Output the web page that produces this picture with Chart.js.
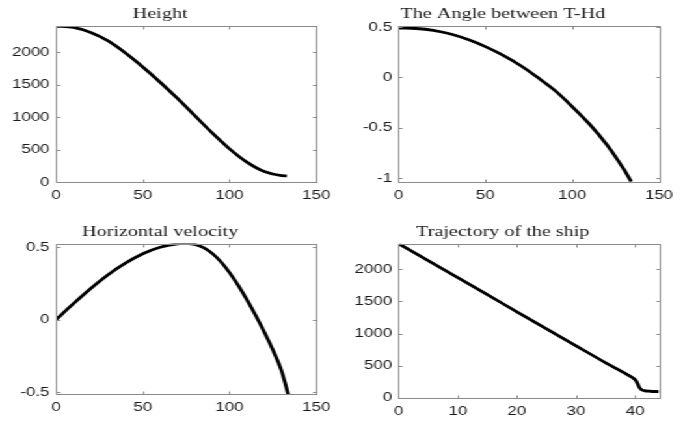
<!DOCTYPE html>
<html>
<head>
<meta charset="utf-8">
<script src="https://cdn.jsdelivr.net/npm/chart.js@4"></script>
<style>
html, body { margin: 0; padding: 0; background: #fff; overflow: hidden; }
/* the original figure is stretched sideways, so draw narrow and stretch */
#wrap { position: relative; width: 525px; height: 424px; transform: scaleX(1.301); transform-origin: 0 0; }
#wrap canvas { position: absolute; left: 0; top: 0; }
</style>
</head>
<body>
<div id="wrap">
  <canvas id="c1" width="525" height="424"></canvas>
  <canvas id="c2" width="525" height="424"></canvas>
  <canvas id="c3" width="525" height="424"></canvas>
  <canvas id="c4" width="525" height="424"></canvas>
</div>
<script>
// Height
const heightTime = [0, 10, 20, 30, 40, 50, 60, 70, 80, 90, 100, 110, 120, 130, 133];
const heightValues = [2400, 2378, 2300, 2170, 1985, 1770, 1535, 1285, 1020, 755, 510, 305, 160, 98, 95];

// The Angle between T-Hd
const angleTime = [0, 10, 20, 30, 40, 50, 60, 70, 80, 90, 100, 110, 120, 125, 130, 134];
const angleValues = [0.49, 0.485, 0.467, 0.43, 0.375, 0.305, 0.22, 0.12, 0.0, -0.13, -0.29, -0.465, -0.67, -0.79, -0.92, -1.035];

// Horizontal velocity
const velTime = [0, 10, 20, 30, 40, 50, 60, 70, 75, 80, 85, 90, 95, 100, 105, 110, 115, 120, 125, 130, 134];
const velValues = [0, 0.11, 0.215, 0.31, 0.39, 0.455, 0.5, 0.523, 0.527, 0.52, 0.497, 0.458, 0.4, 0.325, 0.237, 0.138, 0.03, -0.085, -0.21, -0.355, -0.525];

// Trajectory of the ship
const trajX = [0, 5, 10, 15, 20, 25, 30, 35, 37, 38.5, 39.5, 40.1, 40.4, 40.7, 41, 41.5, 42.5, 44];
const trajY = [2400, 2135, 1870, 1605, 1340, 1075, 810, 545, 445, 370, 315, 270, 220, 160, 130, 112, 102, 97];

const timeTicks = [0, 50, 100, 150];
const trajTicks = [0, 10, 20, 30, 40];
const heightTicks = [0, 500, 1000, 1500, 2000];
const angleTicks = [-1, -0.5, 0, 0.5];
const velTicks = [-0.5, 0, 0.5];

const W = 525, H = 424, yW = 40, xH = 30, titleSize = 15.5;

// box around the plot with inward ticks on every side
const boxPlugin = {
  id: 'box',
  afterDraw(chart) {
    const a = chart.chartArea, c = chart.ctx;
    const L = Math.round(a.left) + 0.5, R = Math.round(a.right) + 0.5;
    const T = Math.round(a.top) + 0.5, B = Math.round(a.bottom) + 0.5;
    c.save();
    c.strokeStyle = '#8a8a8a';
    c.lineWidth = 1;
    c.strokeRect(L, T, R - L, B - T);
    c.beginPath();
    chart.scales.x.ticks.forEach(t => {
      const px = Math.round(chart.scales.x.getPixelForValue(t.value)) + 0.5;
      c.moveTo(px, B); c.lineTo(px, B - 3);
      c.moveTo(px, T); c.lineTo(px, T + 3);
    });
    chart.scales.y.ticks.forEach(t => {
      const py = Math.round(chart.scales.y.getPixelForValue(t.value)) + 0.5;
      c.moveTo(L, py); c.lineTo(L + 3, py);
      c.moveTo(R, py); c.lineTo(R - 3, py);
    });
    c.stroke();
    c.restore();
  }
};

function panel(id, title, xs, ys, xTicks, yTicks, xMin, xMax, yMin, yMax, box) {
  const tickFont = { family: '"Liberation Sans", Arial, sans-serif', size: 13 };
  new Chart(document.getElementById(id), {
    type: 'line',
    data: {
      datasets: [{
        data: xs.map((x, i) => ({ x: x, y: ys[i] })),
        borderColor: '#000',
        borderWidth: 2.8,
        pointRadius: 0,
        cubicInterpolationMode: 'monotone'
      }]
    },
    options: {
      responsive: false,
      animation: false,
      events: [],
      layout: { padding: { left: box.l - yW, right: W - box.r, top: 0, bottom: H - box.b - xH } },
      plugins: {
        legend: { display: false },
        tooltip: { enabled: false },
        title: {
          display: true,
          text: title,
          color: '#1a1a1a',
          font: { family: '"Liberation Serif", "Times New Roman", serif', size: titleSize, weight: 'normal', lineHeight: 1 },
          padding: { top: box.t - titleSize - 4, bottom: 4 }
        }
      },
      scales: {
        x: {
          type: 'linear', min: xMin, max: xMax,
          grid: { display: false, drawTicks: false },
          border: { display: false },
          ticks: { color: '#1a1a1a', font: tickFont, padding: 6, maxRotation: 0, autoSkip: false, callback: v => String(v) },
          afterBuildTicks: s => { s.ticks = xTicks.map(v => ({ value: v })); },
          afterFit: s => { s.height = xH; s.paddingLeft = 0; s.paddingRight = 0; }
        },
        y: {
          min: yMin, max: yMax,
          grid: { display: false, drawTicks: false },
          border: { display: false },
          ticks: { color: '#1a1a1a', font: tickFont, padding: 5, autoSkip: false, callback: v => String(v) },
          afterBuildTicks: s => { s.ticks = yTicks.map(v => ({ value: v })); },
          afterFit: s => { s.width = yW; s.paddingTop = 0; s.paddingBottom = 0; }
        }
      }
    },
    plugins: [boxPlugin]
  });
}

panel('c1', 'Height', heightTime, heightValues, timeTicks, heightTicks, 0, 150, 0, 2400,
  { l: 43.1, r: 243.1, t: 26, b: 182 });
panel('c2', 'The Angle between T-Hd', angleTime, angleValues, timeTicks, angleTicks, 0, 150, -1.04, 0.51,
  { l: 306.4, r: 506.5, t: 26, b: 182 });
panel('c3', 'Horizontal velocity', velTime, velValues, timeTicks, velTicks, 0, 150, -0.514, 0.526,
  { l: 43.1, r: 243.1, t: 243.5, b: 394 });
panel('c4', 'Trajectory of the ship', trajX, trajY, trajTicks, heightTicks, 0, 44, 0, 2400,
  { l: 306.4, r: 506.5, t: 243.7, b: 397.8 });
</script>
</body>
</html>
